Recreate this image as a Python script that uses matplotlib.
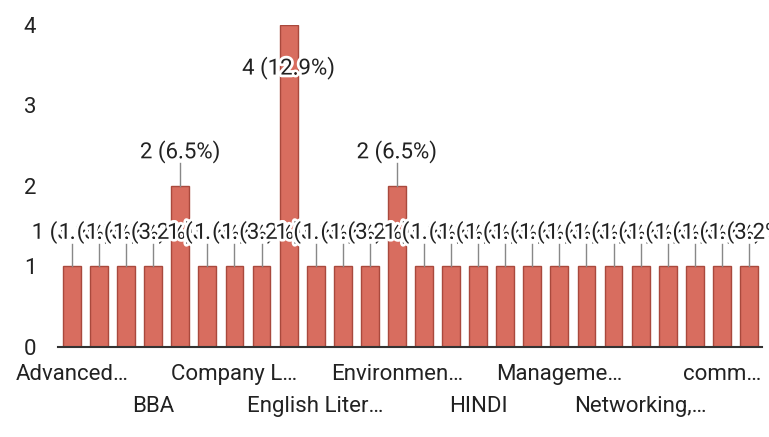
import matplotlib
matplotlib.use("Agg")
import matplotlib.pyplot as plt
import matplotlib.patheffects as pe

categories = ["Advanced…", "", "", "BBA", "", "", "Company L…", "", "", "English Liter…",
              "", "", "Environmen…", "", "", "HINDI", "", "", "Manageme…", "", "",
              "Networking,…", "", "", "comm…", ""]
values = [1, 1, 1, 1, 2, 1, 1, 1, 4, 1, 1, 1, 2, 1, 1, 1, 1, 1, 1, 1, 1, 1, 1, 1, 1, 1]
yticks = [0, 1, 2, 3, 4]

total = sum(values)
plt.rcParams['font.family'] = ['Roboto', 'DejaVu Sans']
FS = 16

fig = plt.figure(figsize=(7.69, 4.37), dpi=100)
ax = fig.add_axes([0.076, 0.206, 0.9155, 0.737])
x = list(range(len(values)))
ax.bar(x, values, width=0.66, color="#d86d5f", edgecolor="#a9493d", linewidth=1.0, zorder=2)
ax.set_xlim(-0.5, len(values) - 0.5)
ax.set_ylim(0, 4)
ax.set_yticks(yticks)
ax.set_yticklabels([str(t) for t in yticks], fontsize=FS, color="#222222")
ax.tick_params(axis='y', length=0, pad=16)
ax.set_xticks([])
for s in ["top", "right", "left"]:
    ax.spines[s].set_visible(False)
ax.spines["bottom"].set_color("#333333")
ax.spines["bottom"].set_linewidth(1.5)
ax.spines["bottom"].set_zorder(5)

halo = [pe.withStroke(linewidth=4, foreground="white")]
for i, v in enumerate(values):
    label = f"{v} ({v / total * 100:.1f}%)"
    ty = v + 0.28
    if ty > 3.9:
        ty = v - 0.68
        ax.text(i, ty, label, ha="center", va="bottom", fontsize=FS, color="#222222",
                path_effects=halo, zorder=6 + i, clip_on=False)
        continue
    ax.plot([i, i], [v, ty], color="#888888", linewidth=1, zorder=3)
    ax.text(i, ty, label, ha="center", va="bottom", fontsize=FS, color="#222222",
            path_effects=halo, zorder=6 + i, clip_on=False)

row = 0
for i, c in enumerate(categories):
    if c:
        yoff = -0.34 if row % 2 == 0 else -0.74
        ax.text(i, yoff, c, ha="center", va="center", fontsize=FS, color="#222222",
                clip_on=False)
        row += 1

fig.savefig("out.png", dpi=100)
